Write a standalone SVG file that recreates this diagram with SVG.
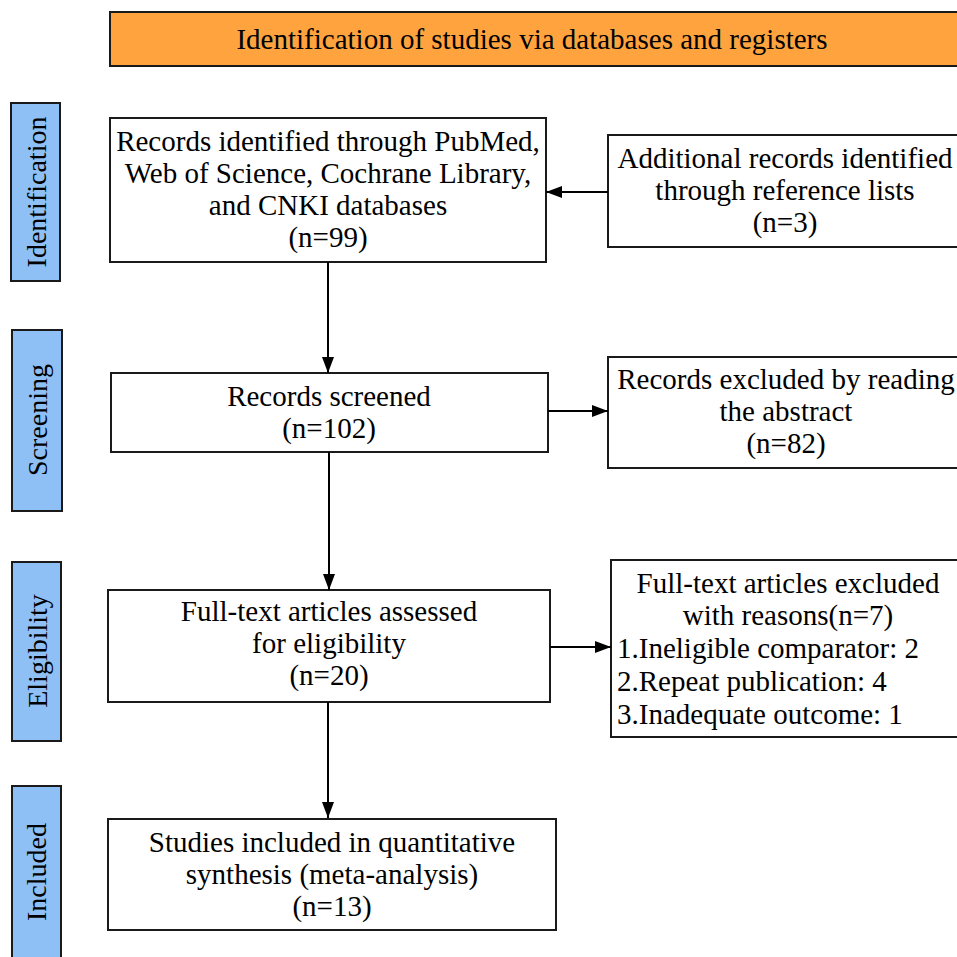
<svg xmlns="http://www.w3.org/2000/svg" width="957" height="957" viewBox="0 0 957 957">
<style>
text{font-family:"Liberation Serif","Times New Roman",serif;fill:#000;}
.box{fill:#fff;stroke:#1a1a1a;stroke-width:2;}
.hdr{fill:#FFA33F;stroke:#1a1a1a;stroke-width:2;}
.side{fill:#8EC0F6;stroke:#1a1a1a;stroke-width:2;}
.t{font-size:29px;text-anchor:middle;}
.tl{font-size:29px;text-anchor:start;}
.s{font-size:28px;text-anchor:middle;}
.conn line{stroke:#000;stroke-width:2;marker-end:url(#ah);}
</style>
<defs>
<marker id="ah" markerUnits="userSpaceOnUse" markerWidth="16" markerHeight="12" refX="16" refY="6" orient="auto">
<path d="M0,0 L16,6 L0,12 z" fill="#000"/>
</marker>
</defs>
<rect width="957" height="957" fill="#fff"/>
<g id="header">
<rect class="hdr" x="110" y="12" width="852" height="54"/>
<text class="t" x="532" y="49">Identification of studies via databases and registers</text>
</g>
<g id="side-identification">
<rect class="side" x="11" y="103" width="49" height="178"/>
<text class="s" transform="translate(46,192) rotate(-90)">Identification</text>
</g>
<g id="side-screening">
<rect class="side" x="12" y="330" width="50" height="181"/>
<text class="s" transform="translate(47,420) rotate(-90)">Screening</text>
</g>
<g id="side-eligibility">
<rect class="side" x="12" y="562" width="49" height="179"/>
<text class="s" transform="translate(47,651) rotate(-90)">Eligibility</text>
</g>
<g id="side-included">
<rect class="side" x="12" y="786" width="49" height="180"/>
<text class="s" transform="translate(46,872) rotate(-90)">Included</text>
</g>
<g id="records-identified">
<rect class="box" x="110" y="118" width="436" height="144"/>
<text class="t" x="328" y="151">Records identified through PubMed,</text>
<text class="t" x="328" y="183">Web of Science, Cochrane Library,</text>
<text class="t" x="328" y="215">and CNKI databases</text>
<text class="t" x="328" y="247">(n=99)</text>
</g>
<g id="additional-records">
<rect class="box" x="608" y="135" width="360" height="112"/>
<text class="t" x="785" y="168">Additional records identified</text>
<text class="t" x="785" y="200">through reference lists</text>
<text class="t" x="785" y="232">(n=3)</text>
</g>
<g id="records-screened">
<rect class="box" x="111" y="373" width="437" height="79"/>
<text class="t" x="329" y="406">Records screened</text>
<text class="t" x="329" y="438">(n=102)</text>
</g>
<g id="records-excluded">
<rect class="box" x="608" y="357" width="360" height="111"/>
<text class="t" x="786" y="389">Records excluded by reading</text>
<text class="t" x="786" y="421">the abstract</text>
<text class="t" x="786" y="453">(n=82)</text>
</g>
<g id="fulltext-assessed">
<rect class="box" x="108" y="590" width="442" height="112"/>
<text class="t" x="329" y="621">Full-text articles assessed</text>
<text class="t" x="329" y="653">for eligibility</text>
<text class="t" x="329" y="685">(n=20)</text>
</g>
<g id="fulltext-excluded">
<rect class="box" x="611" y="560" width="357" height="177"/>
<text class="t" x="788" y="593">Full-text articles excluded</text>
<text class="t" x="788" y="625">with reasons(n=7)</text>
<text class="tl" x="617" y="658">1.Ineligible comparator: 2</text>
<text class="tl" x="617" y="691">2.Repeat publication: 4</text>
<text class="tl" x="617" y="724">3.Inadequate outcome: 1</text>
</g>
<g id="studies-included">
<rect class="box" x="108" y="819" width="448" height="111"/>
<text class="t" x="332" y="852">Studies included in quantitative</text>
<text class="t" x="332" y="884">synthesis (meta-analysis)</text>
<text class="t" x="332" y="916">(n=13)</text>
</g>
<g id="connectors" class="conn">
<line x1="328" y1="262" x2="328" y2="373"/>
<line x1="608" y1="192" x2="546" y2="192"/>
<line x1="329" y1="452" x2="329" y2="590"/>
<line x1="548" y1="411" x2="608" y2="411"/>
<line x1="550" y1="647" x2="611" y2="647"/>
<line x1="328" y1="702" x2="328" y2="818"/>
</g>
</svg>
